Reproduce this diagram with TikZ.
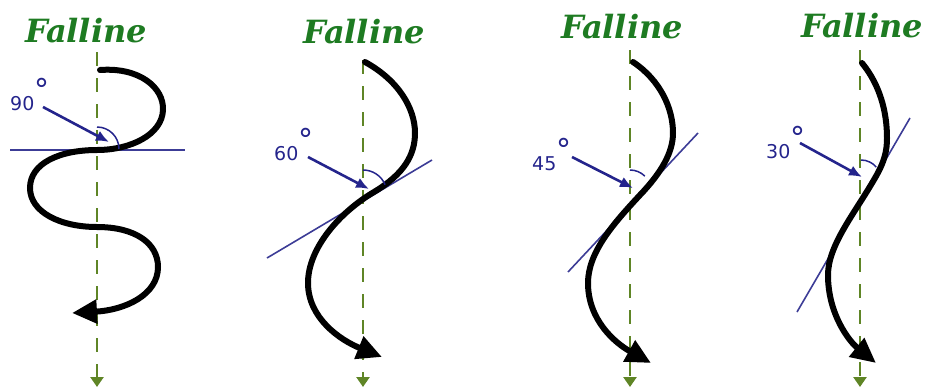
\documentclass[tikz,border=0pt]{standalone}
\usepackage{fontspec}
\setmainfont{DejaVu Serif}
\newfontfamily\lblfont{DejaVu Sans}
\usetikzlibrary{arrows.meta}
\definecolor{fallgreen}{HTML}{1E7B22}
\definecolor{dashgreen}{HTML}{5F8526}
\definecolor{navy}{HTML}{24248C}
\definecolor{tanblue}{HTML}{3C3C96}
\newcommand{\degmark}{\kern0.5pt\raisebox{9.5pt}{\fontsize{30}{30}\selectfont °}}
\begin{document}
\begin{tikzpicture}[x=1pt,y=-1pt,
  title/.style={font=\fontsize{32}{32}\selectfont\bfseries\itshape, text=fallgreen, inner sep=0pt, anchor=base},
  fallline/.style={dashgreen, line width=2.8pt, dash pattern=on 14pt off 12pt, -{Triangle[length=10pt,width=13pt]}},
  turnpath/.style={black, line width=6pt, line cap=round, -{Triangle[length=25pt,width=23pt]}},
  tangent/.style={tanblue, line width=1.6pt},
  pointer/.style={navy, line width=2.6pt, -{Latex[length=13pt,width=11pt]}},
  anglearc/.style={navy, line width=1.5pt},
  deglabel/.style={font=\lblfont\fontsize{19}{19}\selectfont, text=navy, inner sep=0pt, anchor=base west}
]
\useasboundingbox (0,0) rectangle (930,389);

% ---------- panel 1 : 90 ----------
\node[title] (t1) at (86,42) {Falline};
\coordinate (f1a) at (97,52); \coordinate (f1b) at (97,387);
\draw[fallline] (f1a) -- (f1b);
\coordinate (h1a) at (10,150); \coordinate (h1b) at (185,150);
\draw[tangent] (h1a) -- (h1b);
\draw[turnpath] (100,70) .. controls (140,67) and (164,88) .. (163,110)
  .. controls (162,135) and (130,150) .. (97,150)
  .. controls (60,150) and (30,163) .. (30,188)
  .. controls (30,212) and (60,227) .. (97,227)
  .. controls (135,227) and (158,243) .. (158,267)
  .. controls (158,295) and (125,310) .. (72,313);
\draw[anglearc] (97,127) arc[start angle=-90, end angle=0, radius=22];
\coordinate (p1a) at (43,107); \coordinate (p1b) at (109,142);
\draw[pointer] (p1a) -- (p1b);
\node[deglabel] (l1) at (10,110) {90\degmark};

% ---------- panel 2 : 60 ----------
\node[title] (t2) at (364,43) {Falline};
\coordinate (f2a) at (363,60); \coordinate (f2b) at (363,387);
\draw[fallline] (f2a) -- (f2b);
\coordinate (h2a) at (267,258); \coordinate (h2b) at (432,160);
\draw[tangent] (h2a) -- (h2b);
\draw[turnpath] (365,62) .. controls (398,80) and (415,108) .. (415,133)
  .. controls (415,155) and (404,174) .. (374,192)
  .. controls (340,212) and (308,248) .. (308,283)
  .. controls (308,318) and (340,340) .. (382,357);
\draw[anglearc] (363,170) arc[start angle=-90, end angle=-23, radius=24];
\coordinate (p2a) at (308,157); \coordinate (p2b) at (369,189);
\draw[pointer] (p2a) -- (p2b);
\node[deglabel] (l2) at (274,160) {60\degmark};

% ---------- panel 3 : 45 ----------
\node[title] (t3) at (622,38) {Falline};
\coordinate (f3a) at (630,50); \coordinate (f3b) at (630,387);
\draw[fallline] (f3a) -- (f3b);
\coordinate (h3a) at (568,272); \coordinate (h3b) at (698,133);
\draw[tangent] (h3a) -- (h3b);
\draw[turnpath] (633,62) .. controls (660,80) and (673,108) .. (673,133)
  .. controls (673,152) and (662,172) .. (640,195)
  .. controls (614,223) and (588,252) .. (588,283)
  .. controls (588,320) and (615,343) .. (651,363);
\draw[anglearc] (630,170) arc[start angle=-90, end angle=-45, radius=21];
\coordinate (p3a) at (572,157); \coordinate (p3b) at (633,188);
\draw[pointer] (p3a) -- (p3b);
\node[deglabel] (l3) at (532,170) {45\degmark};

% ---------- panel 4 : 30 ----------
\node[title] (t4) at (862,37) {Falline};
\coordinate (f4a) at (860,50); \coordinate (f4b) at (860,387);
\draw[fallline] (f4a) -- (f4b);
\coordinate (h4a) at (797,312); \coordinate (h4b) at (910,118);
\draw[tangent] (h4a) -- (h4b);
\draw[turnpath] (862,63) .. controls (880,85) and (887,112) .. (887,138)
  .. controls (887,150) and (885,161) .. (875,178)
  .. controls (855,213) and (828,245) .. (828,275)
  .. controls (828,315) and (850,342) .. (876,363);
\draw[anglearc] (861,160) arc[start angle=-90, end angle=-40, radius=20];
\coordinate (p4a) at (800,143); \coordinate (p4b) at (862,177);
\draw[pointer] (p4a) -- (p4b);
\node[deglabel] (l4) at (766,158) {30\degmark};
\end{tikzpicture}
\end{document}
